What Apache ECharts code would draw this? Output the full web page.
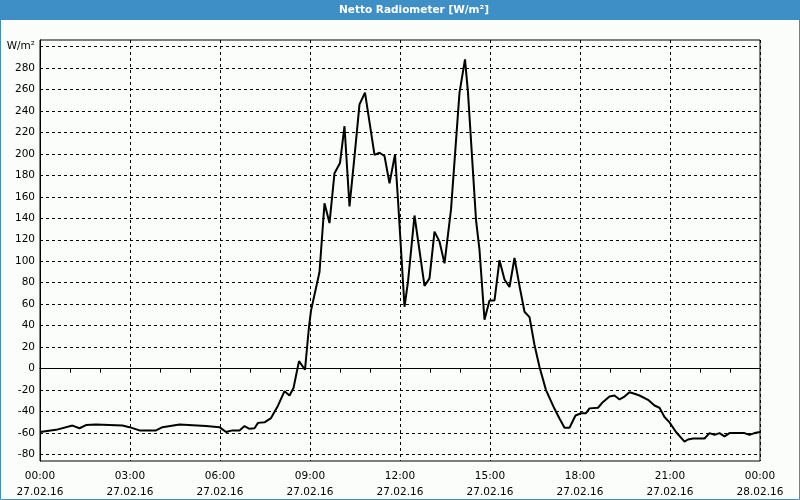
<!DOCTYPE html>
<html>
<head>
<meta charset="utf-8">
<script src="https://cdn.jsdelivr.net/npm/echarts@6/dist/echarts.min.js"></script>
<style>
html,body{margin:0;padding:0;background:#fbfdfb;}
#c{width:800px;height:500px;}
</style>
</head>
<body>
<div id="c"></div>
<script>
// time in minutes since 27.02.16 00:00
var times = [0,32,65,79,92,112,165,179,199,232,245,279,332,359,372,385,399,409,419,429,436,449,462,476,489,499,507,518,530,538,542,559,569,579,589,600,609,619,629,639,650,669,679,689,699,710,716,729,736,749,769,779,789,799,809,822,839,850,856,872,879,889,899,909,919,929,939,949,959,969,979,989,999,1012,1029,1039,1049,1059,1071,1082,1092,1099,1116,1126,1139,1149,1159,1169,1179,1189,1199,1216,1229,1239,1249,1259,1272,1289,1296,1306,1329,1339,1349,1359,1369,1379,1409,1419,1429,1440];
var values = [-59,-57,-53,-55.5,-52.5,-52,-53,-54.5,-57.5,-57.5,-54.5,-52,-53.5,-54.5,-59,-57.5,-57.5,-53.5,-56,-55.5,-50.5,-50,-46,-34.5,-21,-25,-18,7,-1,39,54,90,154,135.5,182,191.5,225.7,151,197.7,246,257,199,201,198,172.5,199.5,157,57.6,81,142.6,77,84,127.6,118.3,98,148,257,288,257,138.6,110.5,45.5,63.5,63.5,101,83,76,103,77,53,48,22,1.5,-20,-37.4,-46.5,-55,-55,-43.6,-41.5,-41.5,-37,-36.4,-31,-26,-25,-28.7,-26,-22,-23.4,-25,-29,-34.3,-36.4,-45,-50,-59,-68,-66,-65,-65,-60,-61.7,-60,-63,-60,-60,-61.7,-60,-59];
var yTicks = [-80,-60,-40,-20,0,20,40,60,80,100,120,140,160,180,200,220,240,260,280,300];
var xTimeLabels = ['00:00','03:00','06:00','09:00','12:00','15:00','18:00','21:00','00:00'];
var xDateLabels = ['27.02.16','27.02.16','27.02.16','27.02.16','27.02.16','27.02.16','27.02.16','27.02.16','28.02.16'];
var unitLabel = 'W/m²';
var titleText = 'Netto Radiometer [W/m²]';

var data = times.map(function(t,i){return [t, values[i]];});
var font = 'DejaVu Sans';
var chart = echarts.init(document.getElementById('c'), null, {renderer:'canvas'});
chart.setOption({
  backgroundColor:'#fbfdfb',
  animation:false,
  graphic:[
    {type:'rect', shape:{x:0,y:0,width:800,height:20}, style:{fill:'#3d8fc6'}, z:10},
    {type:'rect', shape:{x:0.5,y:0.5,width:799,height:499}, style:{fill:null, stroke:'#3d8fc6', lineWidth:1}, z:10},
    {type:'text', x:414, y:10, style:{text:titleText, fill:'#ffffff', font:'bold 10.5px "DejaVu Sans"', align:'center', verticalAlign:'middle'}, z:11}
  ],
  grid:{left:40, right:40, top:40, bottom:39, show:true, borderColor:'#000', borderWidth:1, backgroundColor:'transparent', containLabel:false},
  xAxis:{
    type:'value', min:0, max:1440, interval:180,
    axisLine:{show:true, lineStyle:{color:'#000', width:1}},
    axisTick:{show:true, length:4, lineStyle:{color:'#000'}},
    minorTick:{show:true, splitNumber:3, length:4, lineStyle:{color:'#000'}},
    splitLine:{show:true, lineStyle:{color:'#000', type:[3,3], width:1}},
    axisLabel:{
      color:'#000', fontFamily:font, fontSize:10.5, lineHeight:16, margin:7,
      formatter:function(v){var i=Math.round(v/180); return xTimeLabels[i]+'\n'+xDateLabels[i];}
    }
  },
  yAxis:{
    type:'value', min:-86, max:306,
    axisLine:{show:true, lineStyle:{color:'#000', width:1}},
    axisTick:{show:false, customValues:yTicks},
    splitLine:{show:true, lineStyle:{color:'#000', type:[3,3], width:1}},
    axisLabel:{
      customValues:yTicks, color:'#000', fontFamily:font, fontSize:10.5, margin:5,
      formatter:function(v){return v===300?unitLabel:String(v);}
    }
  },
  series:[{
    type:'line', data:data, showSymbol:false, symbol:'none',
    lineStyle:{color:'#000', width:2}, clip:true
  }]
});
</script>
</body>
</html>
